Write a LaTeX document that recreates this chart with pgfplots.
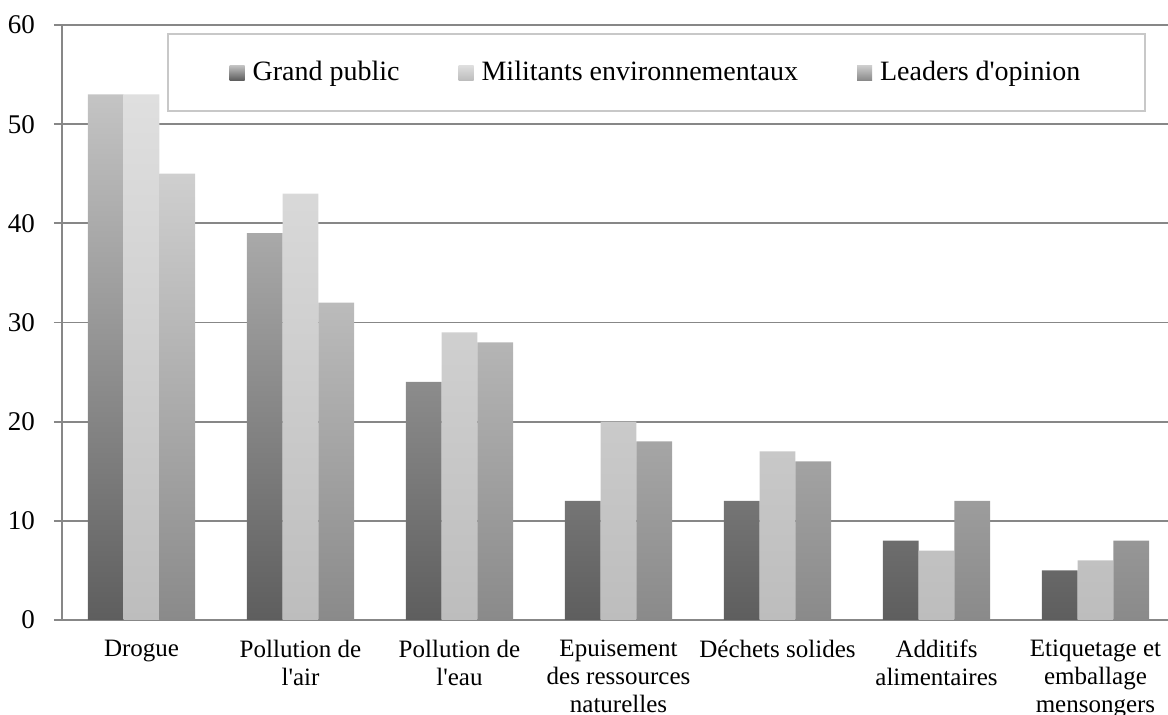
\documentclass[border=0pt]{standalone}
\usepackage{fontspec}
\setmainfont{Liberation Serif}[Ligatures=TeXOff]
\usepackage{pgfplots}
\pgfplotsset{compat=1.18}
\definecolor{gridc}{HTML}{878787}
\definecolor{legc}{HTML}{C8C8C8}
\definecolor{gpB}{HTML}{5E5E5E}
\definecolor{gpT}{HTML}{C4C4C4}
\definecolor{miB}{HTML}{BDBDBD}
\definecolor{miT}{HTML}{DFDFDF}
\definecolor{leB}{HTML}{8A8A8A}
\definecolor{leT}{HTML}{CFCFCF}
\begin{document}
\begin{tikzpicture}
\begin{axis}[
  scale only axis, width=553pt, height=297.5pt,
  xmin=-0.5, xmax=6.456, ymin=0, ymax=60,
  ybar=0pt, bar width=17.85pt,
  axis x line*=bottom, axis y line*=left,
  axis line style={draw=gridc, line width=0.9pt, -},
  ymajorgrids, grid style={draw=gridc, line width=0.9pt},
  ytick={0,10,...,60},
  tick align=outside,
  ytick style={draw=gridc, line width=0.9pt},
  major tick length=4pt,
  xtick={0,...,6},
  xticklabels={Drogue, Pollution de\\l'air, Pollution de\\l'eau, Epuisement\\des ressources\\naturelles, Déchets solides, Additifs\\alimentaires, Etiquetage et\\emballage\\mensongers},
  xtick style={draw=none},
  xticklabel style={font=\fontsize{12.5}{14}\selectfont, align=center, yshift=-2.5pt},
  yticklabel style={font=\fontsize{13.5}{16}\selectfont, xshift=-6pt},
  /pgf/number format/assume math mode=true,
  extra x ticks={-0.5,0.5,...,5.5},
  extra x tick labels={},
  extra x tick style={grid=none, tick style={draw=gridc, line width=0.9pt}, major tick length=3pt},
  legend style={at={(0.5375,0.920)}, anchor=center, legend columns=3,
    draw=legc, line width=0.9pt, font=\fontsize{14}{16}\selectfont,
    inner xsep=31pt, inner ysep=12pt,
    nodes={inner sep=1.5pt},
    /tikz/every even column/.append style={column sep=28pt}},
  legend image code/.code={\path[#1, draw=none] (0pt,-3.75pt) rectangle (7.5pt,3.75pt); \path (10pt,0pt);},
]
\addplot[draw=none, top color=gpT, bottom color=gpB] coordinates {(0,53) (1,39) (2,24) (3,12) (4,12) (5,8) (6,5)};
\addplot[draw=none, top color=miT, bottom color=miB] coordinates {(0,53) (1,43) (2,29) (3,20) (4,17) (5,7) (6,6)};
\addplot[draw=none, top color=leT, bottom color=leB] coordinates {(0,45) (1,32) (2,28) (3,18) (4,16) (5,12) (6,8)};
\legend{Grand public, Militants environnementaux, Leaders d'opinion}
\coordinate (bl) at (rel axis cs:0,0);
\coordinate (tr) at (rel axis cs:1,1);
\end{axis}
\pgfresetboundingbox
\path ([xshift=-31pt,yshift=-47.5pt]bl) rectangle ([yshift=12.5pt]tr);
\end{tikzpicture}
\end{document}
